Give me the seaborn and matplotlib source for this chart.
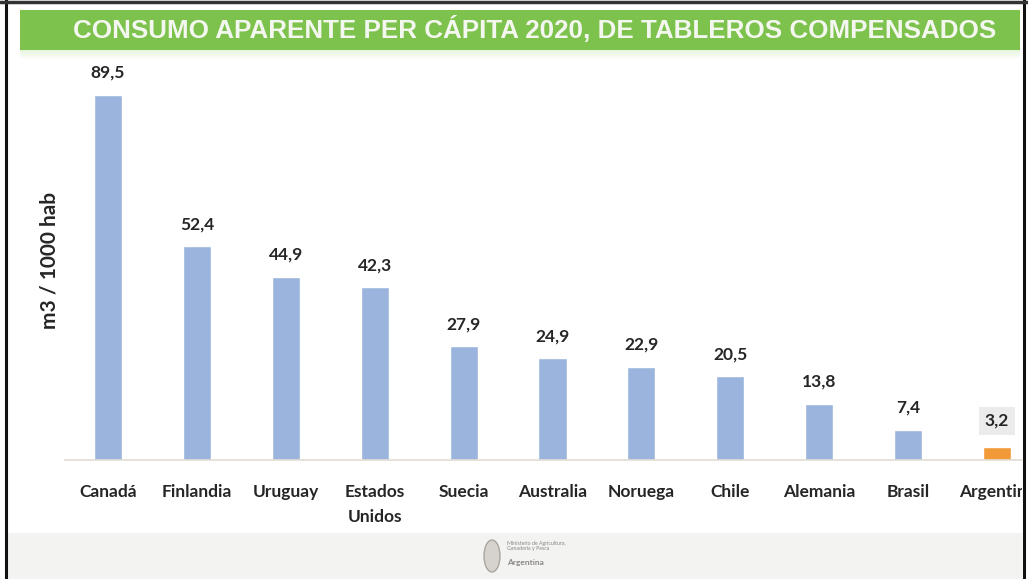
import matplotlib
matplotlib.use("Agg")
import matplotlib.pyplot as plt
import seaborn as sns
import pandas as pd
from matplotlib.patches import Rectangle, Ellipse
from matplotlib.lines import Line2D

countries = ["Canadá", "Finlandia", "Uruguay", "Estados\nUnidos", "Suecia", "Australia",
             "Noruega", "Chile", "Alemania", "Brasil", "Argentina"]
values = [89.5, 52.4, 44.9, 42.3, 27.9, 24.9, 22.9, 20.5, 13.8, 7.4, 3.2]
value_labels = ["89,5", "52,4", "44,9", "42,3", "27,9", "24,9", "22,9", "20,5", "13,8", "7,4", "3,2"]
title = "CONSUMO APARENTE PER CÁPITA 2020, DE TABLEROS COMPENSADOS"
ylabel = "m3 / 1000 hab"

blue = "#9bb4de"
orange = "#f29a38"
colors = [blue] * 10 + [orange]

sns.set_theme(style="white")
plt.rcParams['font.family'] = ['Lato', 'DejaVu Sans']

W, H = 1028, 579
fig = plt.figure(figsize=(W / 100, H / 100), dpi=100)
fig.patch.set_facecolor("white")

# axes geometry in pixels
ax_left, ax_right = 65, 1028
base_y, top_y = 460, 52
ax = fig.add_axes([ax_left / W, (H - base_y) / H, (ax_right - ax_left) / W, (base_y - top_y) / H])

df = pd.DataFrame({"country": countries, "value": values})
sns.barplot(data=df, x="country", y="value", hue="country", palette=colors,
            legend=False, ax=ax, width=0.315, saturation=1)

spacing = 88.9
x0 = (ax_left - 108) / spacing
x1 = (ax_right - 108) / spacing
ax.set_xlim(x0, x1)
ax.set_ylim(0, 100)

for s in ["top", "right", "left"]:
    ax.spines[s].set_visible(False)
ax.spines["bottom"].set_color("#e2dcd2")
ax.spines["bottom"].set_linewidth(1.2)
ax.set_yticks([])
ax.tick_params(axis="x", length=0, pad=17)
ax.set_xlabel("")
ax.set_ylabel("")
for lab in ax.get_xticklabels():
    lab.set_fontsize(12.5)
    lab.set_fontweight("bold")
    lab.set_color("#262626")
    lab.set_linespacing(1.75)
    lab.set_verticalalignment("top")

for i, (v, t) in enumerate(zip(values, value_labels)):
    kw = {}
    if i == len(values) - 1:
        kw["bbox"] = dict(boxstyle="square,pad=0.35", fc="#ebebeb", ec="none")
    ax.annotate(t, (i, v), xytext=(0, 10 if i < len(values) - 1 else 13),
                textcoords="offset points", ha="center", va="bottom",
                fontsize=12.5, fontweight="bold", color="#262626", **kw)

fig.text(50 / W, 1 - 260 / H, ylabel, rotation=90, ha="center", va="center",
         fontsize=15, fontweight="bold", color="#262626")

# title band
fig.add_artist(Rectangle((20 / W, 1 - 50 / H), 1000 / W, 40 / H, transform=fig.transFigure,
                         fc="#7cc24c", ec="none", zorder=5))
for k in range(8):
    fig.add_artist(Rectangle((20 / W, 1 - (51 + k * 1.2) / H), 1000 / W, 1.2 / H,
                             transform=fig.transFigure, fc="#7cc24c", alpha=0.09 * (8 - k) / 8 * 2,
                             ec="none", zorder=5))
fig.text(535 / W, 1 - 29 / H, title, ha="center", va="center", fontsize=18.7,
         fontweight="bold", color="#f4f7ef",
         family=["Liberation Sans Narrow", "Liberation Sans", "DejaVu Sans"], zorder=6)

# footer band
fig.add_artist(Rectangle((5 / W, 0), 1020 / W, 46 / H, transform=fig.transFigure,
                         fc="#f3f3f1", ec="none", zorder=-1))
fig.add_artist(Ellipse((492 / W, 1 - 556 / H), 16 / W, 32 / H, transform=fig.transFigure,
                       fc="#d6d3cf", ec="#a9a6a2", lw=1, zorder=6))
fig.text(507 / W, 1 - 546 / H, "Ministerio de Agricultura,\nGanadería y Pesca", ha="left",
         va="center", fontsize=3.8, color="#8a8785", linespacing=1.1, zorder=6)
fig.text(507 / W, 1 - 563 / H, "Argentina", ha="left", va="center", fontsize=6,
         fontweight="bold", color="#8a8785", zorder=6)

# right clip + frame
fig.add_artist(Rectangle((1022 / W, 0), 6 / W, 1, transform=fig.transFigure,
                         fc="white", ec="none", zorder=8))
fig.add_artist(Line2D([6 / W, 6 / W], [0, 1], transform=fig.transFigure, color="#111111",
                      lw=2.2, zorder=9))
fig.add_artist(Line2D([1024 / W, 1024 / W], [0, 1], transform=fig.transFigure, color="#111111",
                      lw=2.2, zorder=9))
fig.add_artist(Line2D([0, 1], [1 - 2 / H, 1 - 2 / H], transform=fig.transFigure, color="#333333",
                      lw=2.5, zorder=9))

fig.savefig("out.png", dpi=100)
